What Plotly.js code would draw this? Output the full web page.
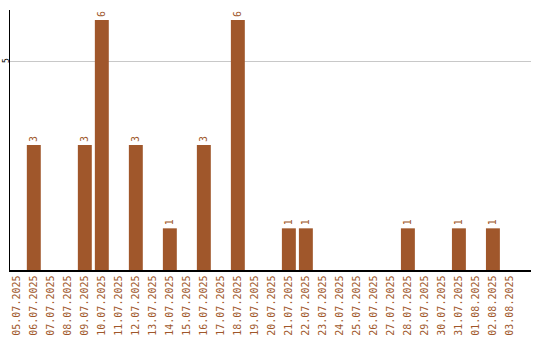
<!DOCTYPE html>
<html>
<head>
<meta charset="utf-8">
<script src="https://cdn.plot.ly/plotly-3.0.1.min.js"></script>
<style>
  html, body { margin: 0; padding: 0; background: #fff; }
  #chart { width: 540px; height: 340px; }
</style>
</head>
<body>
<div id="chart"></div>
<script>
// Daily counts, 05.07.2025 – 03.08.2025
const dates = [
  "05.07.2025", "06.07.2025", "07.07.2025", "08.07.2025", "09.07.2025",
  "10.07.2025", "11.07.2025", "12.07.2025", "13.07.2025", "14.07.2025",
  "15.07.2025", "16.07.2025", "17.07.2025", "18.07.2025", "19.07.2025",
  "20.07.2025", "21.07.2025", "22.07.2025", "23.07.2025", "24.07.2025",
  "25.07.2025", "26.07.2025", "27.07.2025", "28.07.2025", "29.07.2025",
  "30.07.2025", "31.07.2025", "01.08.2025", "02.08.2025", "03.08.2025"
];
const counts = [
  0, 3, 0, 0, 3,
  6, 0, 3, 0, 1,
  0, 3, 0, 6, 0,
  0, 1, 1, 0, 0,
  0, 0, 0, 1, 0,
  0, 1, 0, 1, 0
];
const yTicks = [5];

const barColor = "#a0572b";
const labels = counts.map(v => (v > 0 ? String(v) : ""));

const trace = {
  type: "bar",
  x: dates.map((d, i) => i),
  y: counts,
  marker: { color: barColor },
  text: labels,
  textposition: "outside",
  textangle: -90,
  cliponaxis: false,
  textfont: { family: "DejaVu Sans Mono", size: 10, color: barColor },
  hoverinfo: "none"
};

const layout = {
  width: 540,
  height: 340,
  margin: { l: 10, r: 9, t: 10, b: 70, pad: 0 },
  paper_bgcolor: "#ffffff",
  plot_bgcolor: "#ffffff",
  showlegend: false,
  bargap: 0.18,
  xaxis: {
    type: "linear",
    range: [-0.4, 30.24],
    tickmode: "array",
    tickvals: dates.map((d, i) => i),
    ticktext: dates,
    tickangle: -90,
    tickfont: { family: "DejaVu Sans Mono", size: 10, color: barColor },
    showgrid: false,
    zeroline: false,
    showline: true,
    linecolor: "#000000",
    linewidth: 1.5,
    ticks: "",
    fixedrange: true
  },
  yaxis: {
    range: [0, 6.24],
    tickmode: "array",
    tickvals: yTicks,
    ticktext: yTicks.map(String),
    tickangle: -90,
    tickfont: { family: "DejaVu Sans Mono", size: 8, color: "#000000" },
    showgrid: true,
    gridcolor: "#c8c8c8",
    gridwidth: 1,
    zeroline: false,
    showline: true,
    linecolor: "#000000",
    linewidth: 1.5,
    ticks: "",
    ticklabelstandoff: -4,
    fixedrange: true
  }
};

Plotly.newPlot("chart", [trace], layout, { staticPlot: true, displayModeBar: false });
</script>
</body>
</html>
